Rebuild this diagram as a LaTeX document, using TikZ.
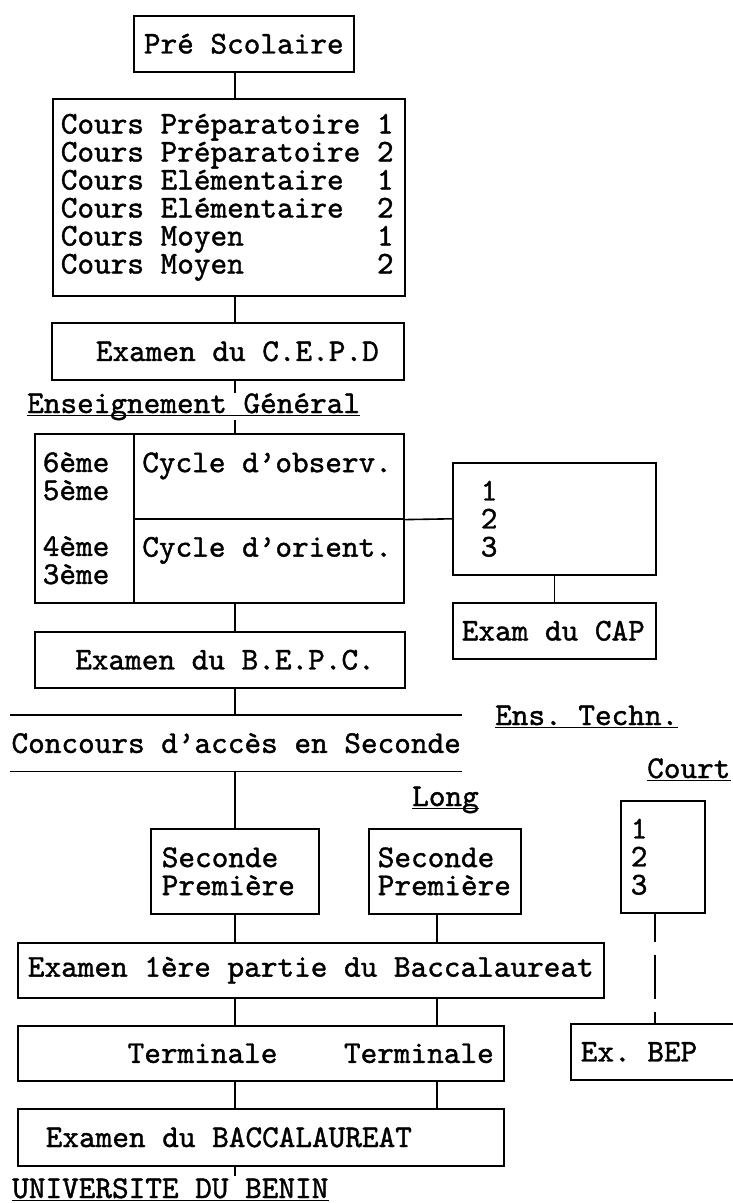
\documentclass[tikz,border=0pt]{standalone}
\usepackage{fontspec}
\newfontfamily\typer{lmmono10-regular.otf}[FakeBold=1.2]
\newcommand\typeface{\fontsize{31.7}{28}\typer}
\newcommand\fixedspace{\spaceskip=16.64pt\relax\xspaceskip=16.64pt\relax}
\lineskiplimit=-50pt

\begin{document}
\begin{tikzpicture}[x=1pt, y=-1pt,
    every node/.style={font=\typeface, inner sep=0pt, execute at begin node=\fixedspace},
    block/.style={draw, line width=1.6pt, anchor=north west},
    heading/.style={anchor=base west},
    link/.style={line width=1.6pt}]
   \path[use as bounding box, fill=white] (0,0) rectangle (733,1203);
   \coordinate (spine) at (235,0);
   \coordinate (spineB) at (437,0);
   \coordinate (spineC) at (655,0);
   % tronc commun
   \node[block, minimum width=220pt, minimum height=56pt] (Pre) at (133,15) {Pré Scolaire};
   \node[block, align=left, text width=336pt, inner xsep=8pt, minimum height=197pt] (Cours) at (52,98)
      {Cours Préparatoire 1\\Cours Préparatoire 2\\Cours Elémentaire~~1\\Cours Elémentaire~~2\\Cours Moyen~~~~~~~~1\\Cours Moyen~~~~~~~~2};
   \node[block, align=right, text width=302pt, inner xsep=25pt, minimum height=57pt] (CEPD) at (51,322) {Examen du C.E.P.D};
   \node[heading] (Gen) at (27,413) {Enseignement Général};
   \node[block, align=left, text width=83pt, inner xsep=8pt, minimum height=169pt] (Grades) at (34,433) {6ème\\5ème\\[28pt]4ème\\3ème};
   \node[block, align=left, text width=253pt, inner xsep=8.5pt, minimum height=85pt] (Observ) at (133,433) {Cycle d’observ.\\\mbox{}};
   \node[block, align=left, text width=253pt, inner xsep=8.5pt, minimum height=84pt] (Orient) at (133,518) {Cycle d’orient.\\\mbox{}};
   \node[block, align=right, text width=310pt, inner xsep=30pt, minimum height=56pt] (BEPC) at (34,631) {Examen du B.E.P.C.};
   \node[block, align=left, text width=147pt, inner xsep=28pt, minimum height=112pt] (CapYears) at (452,462) {1\\2\\3};
   \node[block, align=left, text width=185pt, inner xsep=9pt, minimum height=56pt] (CapExam) at (452,602) {Exam du CAP};
   % second cycle
   \node[heading] (Techn) at (495,725) {Ens. Techn.};
   \node[anchor=north west, minimum width=452pt, minimum height=56pt] (Conc) at (10,715) {Concours d’accès en Seconde};
   \node[heading] (Court) at (647,778) {Court};
   \node[heading] (Long) at (412,806) {Long};
   \node[block, align=left, text width=146pt, inner xsep=11pt, minimum height=85pt] (SecA) at (150,828) {Seconde\\Première};
   \node[block, align=left, text width=134pt, inner xsep=9pt, minimum height=85pt] (SecB) at (368,828) {Seconde\\Première};
   \node[block, align=left, text width=64pt, inner xsep=10pt, minimum height=112pt] (CourtYears) at (620,800) {1\\2\\3};
   \node[block, minimum width=586pt, minimum height=55pt] (Exam1) at (17,942) {Examen 1ère partie du Baccalaureat};
   \node[block, align=right, text width=466pt, inner xsep=10pt, minimum height=55pt] (Term) at (17,1025) {Terminale~~~~Terminale};
   \node[block, align=left, text width=170pt, inner xsep=10pt, minimum height=56pt] (BEP) at (570,1023) {Ex. BEP};
   \node[block, align=left, text width=430pt, inner xsep=28pt, minimum height=57pt] (Bac) at (17,1108) {Examen du BACCALAUREAT};
   \node[heading] (Univ) at (12,1198) {UNIVERSITE DU BENIN};
   % liaisons
   \draw[link] (Pre.south -| spine) to (Cours.north -| spine);
   \draw[link] (Cours.south -| spine) to (CEPD.north -| spine);
   \draw[link] (CEPD.south -| spine) to (Gen.north -| spine);
   \draw[link] (Gen.south -| spine) to (Observ.north -| spine);
   \draw[link] (Orient.south -| spine) to (BEPC.north -| spine);
   \draw[link] (Observ.south east) to (CapYears.west);
   \draw[link] (CapYears.south) to (CapExam.north);
   \draw[link] (BEPC.south -| spine) to (Conc.north -| spine);
   \draw[link] (Conc.north west) to (Conc.north east);
   \draw[link] (Conc.south west) to (Conc.south east);
   \draw[link] (Conc.south -| spine) to (SecA.north -| spine);
   \draw[link] (SecA.south -| spine) to (Exam1.north -| spine);
   \draw[link] (SecB.south -| spineB) to (Exam1.north -| spineB);
   \foreach \c in {spine, spineB} {
     \draw[link] (Exam1.south -| \c) to (Term.north -| \c);
     \draw[link] (Term.south -| \c) to (Bac.north -| \c);
   }
   \draw[link] (Bac.south -| spine) to ([yshift=2pt]Univ.north -| spine);
   \draw[link, dash pattern=on 28pt off 13pt on 44pt off 13pt] (CourtYears.south -| spineC) to (BEP.north -| spineC);
   % soulignements
   \foreach \h in {Gen, Techn, Court, Long, Univ}
     \draw[line width=1.2pt] ([yshift=-2.5pt]\h.base west) to ([yshift=-2.5pt]\h.base east);
\end{tikzpicture}
\end{document}
